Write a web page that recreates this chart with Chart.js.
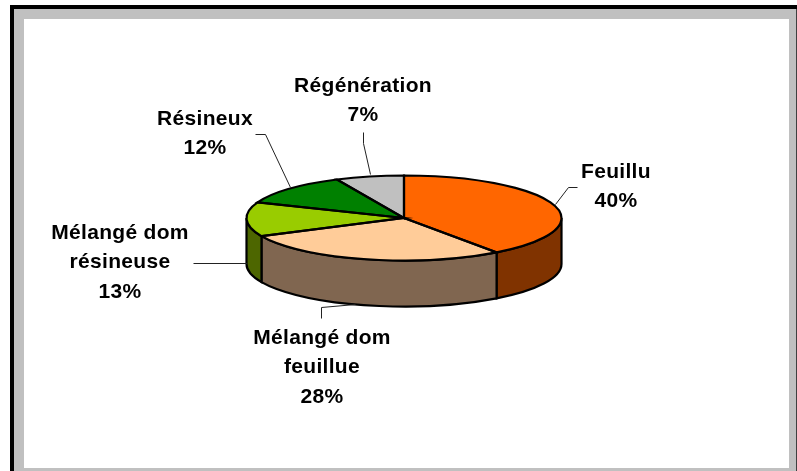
<!DOCTYPE html>
<html>
<head>
<meta charset="utf-8">
<title>Types de peuplement</title>
<script src="https://cdn.jsdelivr.net/npm/chart.js@4"></script>
<style>
html, body { margin: 0; padding: 0; background: #fff; }
canvas { display: block; }
</style>
</head>
<body>
<canvas id="myChart" width="797" height="471"></canvas>
<script>
var categories = ['Feuillu', 'Mélangé dom feuillue', 'Mélangé dom résineuse', 'Résineux', 'Régénération'];
var percents = [40, 28, 13, 12, 7];
var topColors = ['#FF6600', '#FFCC99', '#99CC00', '#008000', '#C0C0C0'];
var wallColors = ['#803300', '#806650', '#4D6600', '#004000', '#606060'];
var labelLines = [['Feuillu'], ['Mélangé dom', 'feuillue'], ['Mélangé dom', 'résineuse'], ['Résineux'], ['Régénération']];

// label centre x / first line y, and leader lines, all in page pixels
var labelX = [616, 322, 120, 205, 363];
var labelY = [172, 338, 233, 119, 86];
var leaders = [
    [[555, 204], [568, 187], [577, 187]],
    [[321, 318], [321, 307], [355, 304]],
    [[193, 263], [247, 263]],
    [[255, 134], [265, 134], [290, 187]],
    [[363, 132], [363, 143], [370, 174]]
];

var squash = 0.27;
var depth = 46;

var pie3d = {
    id: 'pie3d',
    beforeDraw: function(chart) {
        var c = chart.ctx;
        c.save();
        c.fillStyle = '#fff';
        c.fillRect(0, 0, 797, 471);
        // sheet frame
        c.fillStyle = '#C0C0C0';
        c.fillRect(14, 9, 783, 10);
        c.fillRect(14, 9, 10, 462);
        c.fillRect(789, 9, 8, 462);
        c.fillRect(14, 468, 783, 3);
        c.fillStyle = '#000';
        c.fillRect(10, 5, 787, 4);
        c.fillRect(10, 5, 4, 466);
        c.fillStyle = '#404040';
        c.fillRect(796, 9, 1, 462);
        c.restore();
    },
    beforeDatasetsDraw: function(chart) {
        var c = chart.ctx;
        var arcs = chart.getDatasetMeta(0).data;
        c.save();
        c.lineWidth = 2.2;
        c.strokeStyle = '#000';
        arcs.forEach(function(a, i) {
            // only the front half of the rim shows
            var from = Math.max(a.startAngle, 0);
            var to = Math.min(a.endAngle, Math.PI);
            if (to <= from) return;
            var rx = a.outerRadius, ry = rx * squash;
            c.beginPath();
            c.ellipse(a.x, a.y + depth, rx, ry, 0, from, to);
            c.ellipse(a.x, a.y, rx, ry, 0, to, from, true);
            c.closePath();
            c.fillStyle = wallColors[i];
            c.fill();
            c.stroke();
        });
        c.restore();
        // flatten the pie itself
        var m = arcs[0];
        c.save();
        c.translate(m.x, m.y);
        c.scale(1, squash);
        c.translate(-m.x, -m.y);
    },
    afterDatasetsDraw: function(chart) {
        var c = chart.ctx;
        c.restore();
        var arcs = chart.getDatasetMeta(0).data;
        c.save();
        c.lineWidth = 2.2;
        c.strokeStyle = '#000';
        arcs.forEach(function(a) {
            var rx = a.outerRadius, ry = rx * squash;
            c.beginPath();
            c.moveTo(a.x, a.y);
            c.ellipse(a.x, a.y, rx, ry, 0, a.startAngle, a.endAngle);
            c.closePath();
            c.stroke();
        });
        // leader lines
        c.lineWidth = 1;
        c.strokeStyle = '#222';
        leaders.forEach(function(pts) {
            c.beginPath();
            pts.forEach(function(p, j) {
                if (j == 0) c.moveTo(p[0] + 0.5, p[1] + 0.5);
                else c.lineTo(p[0] + 0.5, p[1] + 0.5);
            });
            c.stroke();
        });
        // labels
        c.fillStyle = '#000';
        c.font = 'bold 21px "Liberation Sans"';
        c.letterSpacing = '0.3px';
        c.textAlign = 'center';
        c.textBaseline = 'middle';
        labelLines.forEach(function(lines, i) {
            var all = lines.concat([percents[i] + '%']);
            all.forEach(function(t, j) {
                c.fillText(t, labelX[i], labelY[i] + j * 29.5);
            });
        });
        c.restore();
    }
};

var ctx = document.getElementById('myChart');
var myChart = new Chart(ctx, {
    type: 'pie',
    data: {
        labels: categories,
        datasets: [{
            data: percents,
            backgroundColor: topColors,
            borderWidth: 0,
            radius: 157.5
        }]
    },
    options: {
        responsive: false,
        animation: false,
        layout: { padding: { left: 11, bottom: 35 } },
        plugins: {
            legend: { display: false },
            title: { display: false },
            tooltip: { enabled: false }
        }
    },
    plugins: [pie3d]
});
</script>
</body>
</html>
